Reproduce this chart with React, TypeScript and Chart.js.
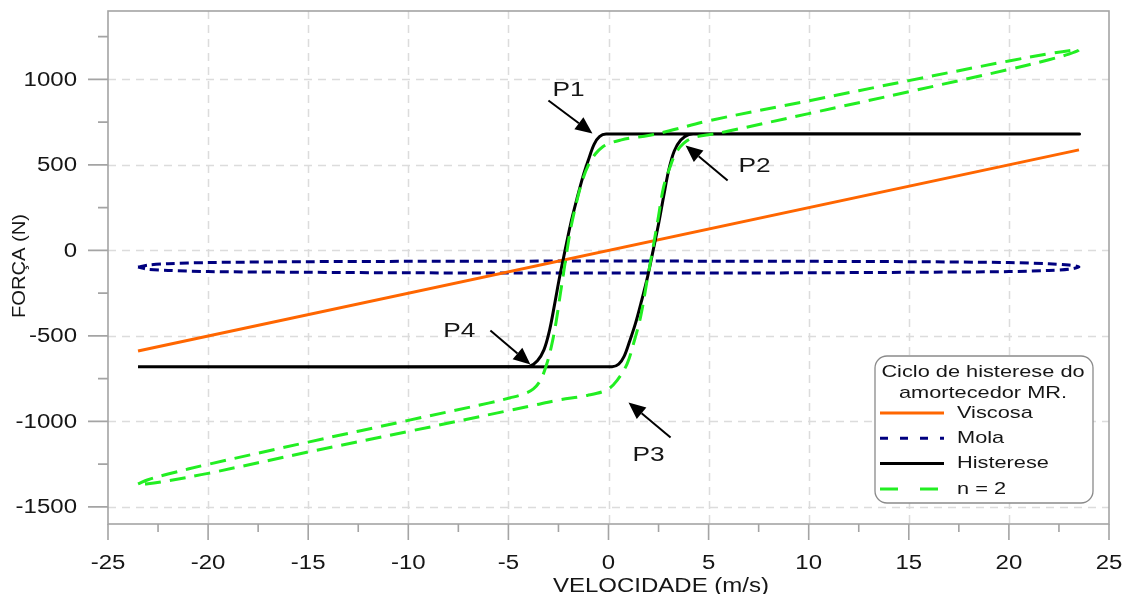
import React, { useEffect, useRef } from "react";
import { Chart, registerables } from "chart.js";

Chart.register(...registerables);

// ---------- axis ticks ----------
const X_MAJOR = [-25, -20, -15, -10, -5, 0, 5, 10, 15, 20, 25];
const X_MINOR = [-22.5, -17.5, -12.5, -7.5, -2.5, 2.5, 7.5, 12.5, 17.5, 22.5];
const Y_MAJOR = [-1500, -1000, -500, 0, 500, 1000];
const Y_MINOR = [-1250, -750, -250, 250, 750, 1250];

// ---------- series ----------
const viscosaX = [-23.5, 23.5];
const viscosaY = [-588, 588];

const molaX = [-23.5, -23, -22, -20, -15, -10, -5, 0, 5, 10, 15, 20, 22, 23, 23.5,
  23, 22, 20, 15, 10, 5, 0, -5, -10, -15, -20, -22, -23, -23.5];
const molaY = [-97, -86, -78, -71, -66, -64, -63, -62, -63, -64, -66, -71, -78, -86, -97,
  -110, -117, -124, -128, -131, -132, -132, -132, -131, -128, -124, -117, -110, -97];

const histX = [-23.5, -4.4, -3.95, -3.55, -3.22, -2.95, -2.7, -2.45, -2.17, -1.9, -1.58, -1.28, -1.0, -0.72, -0.45, -0.12, 23.5,
  4.5, 4.01, 3.61, 3.28, 3.01, 2.76, 2.51, 2.23, 1.96, 1.64, 1.34, 1.06, 0.78, 0.51, 0.18, -23.5];
const histY = [-680, -680, -678, -645, -580, -470, -320, -160, 0, 150, 300, 430, 530, 620, 665, 680, 680,
  680, 678, 645, 580, 470, 320, 160, 0, -150, -300, -430, -530, -620, -665, -680, -680];

const n2X = [-23.5, -23, -22, -20, -15, -10, -6, -4.9, -4.2, -3.75, -3.4, -3.1, -2.85, -2.62, -2.4, -2.15, -1.9, -1.6, -1.3, -1.0, -0.65, -0.3, 0.1, 0.6, 1.1, 2, 3, 5, 10, 15, 20, 22, 23, 23.5,
  23, 22, 20, 15, 10, 6, 5, 4.25, 3.75, 3.35, 3.05, 2.75, 2.47, 2.2, 1.93, 1.6, 1.25, 0.93, 0.43, -0.07, -1.06, -2.5, -3.75, -5, -10, -15, -20, -22, -23, -23.5];
const n2Y = [-1366, -1341, -1308, -1251, -1121, -994, -893, -862, -838, -810, -760, -670, -560, -420, -250, -60, 120, 280, 410, 500, 565, 605, 628, 645, 657, 672, 698, 758, 875, 993, 1108, 1150, 1168, 1172,
  1148, 1115, 1058, 928, 800, 698, 676, 660, 626, 567, 480, 370, 180, 0, -175, -390, -545, -663, -760, -815, -848, -875, -906, -937, -1059, -1179, -1304, -1347, -1365, -1366];

// ---------- legend / annotation text ----------
const LEGEND_TITLE = ["Ciclo de histerese do", "amortecedor MR."];
const LEGEND_LABELS = ["Viscosa", "Mola", "Histerese", "n = 2"];
const X_TITLE = "VELOCIDADE (m/s)";
const Y_TITLE = "FORÇA (N)";
const POINT_LABELS = ["P1", "P2", "P3", "P4"];

const COLORS = ["#ff6600", "#00007f", "#000000", "#22ee22"];
const DASHES: number[][] = [[], [9, 5], [], [16, 9]];
const LEGEND_DASHES: number[][] = [[], [8, 12], [], [18, 22]];

// annotation geometry in data units: [textX, textY, fromX, fromY, tipX, tipY]
const ANNOT = [
  [-2.0, 939, -3.0, 877, -0.8, 684],
  [7.3, 491, 5.95, 409, 3.85, 614],
  [2.0, -1199, 3.1, -1094, 1.0, -889],
  [-7.45, -474, -5.9, -468, -3.9, -667],
];

const toPts = (xs: number[], ys: number[]) => xs.map((x, i) => ({ x, y: ys[i] }));

const FONT = '"Liberation Sans", Arial, sans-serif';
const TEXT = "#161616";

function stretchText(ctx: CanvasRenderingContext2D, t: string, x: number, y: number, size: number, align: CanvasTextAlign, base: CanvasTextBaseline, sx: number) {
  ctx.save();
  ctx.translate(x, y);
  ctx.scale(sx, 1);
  ctx.font = `${size}px ${FONT}`;
  ctx.textAlign = align;
  ctx.textBaseline = base;
  ctx.fillStyle = TEXT;
  ctx.fillText(t, 0, 0);
  ctx.restore();
}

const decor = {
  id: "decor",
  beforeDatasetsDraw(chart: any) {
    const { ctx, chartArea: a, scales } = chart;
    const sx = scales.x, sy = scales.y;
    ctx.save();
    ctx.strokeStyle = "#dcdcdc";
    ctx.lineWidth = 1.5;
    ctx.setLineDash([8, 6]);
    X_MAJOR.forEach((v) => {
      if (v <= -25 || v >= 25) return;
      const p = Math.round(sx.getPixelForValue(v)) + 0.5;
      ctx.beginPath(); ctx.moveTo(p, a.top); ctx.lineTo(p, a.bottom); ctx.stroke();
    });
    Y_MAJOR.forEach((v) => {
      const p = Math.round(sy.getPixelForValue(v)) + 0.5;
      ctx.beginPath(); ctx.moveTo(a.left, p); ctx.lineTo(a.right, p); ctx.stroke();
    });
    ctx.restore();
  },
  afterDatasetsDraw(chart: any) {
    const { ctx, chartArea: a, scales } = chart;
    const sx = scales.x, sy = scales.y;
    ctx.save();
    // frame
    ctx.strokeStyle = "#a4a4a4";
    ctx.lineWidth = 1.6;
    ctx.strokeRect(a.left, a.top, a.right - a.left, a.bottom - a.top);
    // ticks
    ctx.beginPath();
    Y_MAJOR.forEach((v) => { const p = sy.getPixelForValue(v); ctx.moveTo(a.left - 20, p); ctx.lineTo(a.left, p); });
    Y_MINOR.forEach((v) => { const p = sy.getPixelForValue(v); ctx.moveTo(a.left - 10, p); ctx.lineTo(a.left, p); });
    X_MAJOR.forEach((v) => { const p = sx.getPixelForValue(v); ctx.moveTo(p, a.bottom); ctx.lineTo(p, a.bottom + 16); });
    X_MINOR.forEach((v) => { const p = sx.getPixelForValue(v); ctx.moveTo(p, a.bottom); ctx.lineTo(p, a.bottom + 8); });
    ctx.stroke();
    // tick labels
    Y_MAJOR.forEach((v) => stretchText(ctx, String(v), 77, sy.getPixelForValue(v) + 1, 20, "right", "middle", 1.2));
    X_MAJOR.forEach((v) => stretchText(ctx, String(v), sx.getPixelForValue(v), 563, 20, "center", "middle", 1.2));
    // axis titles
    stretchText(ctx, X_TITLE, 661, 592, 20, "center", "alphabetic", 1.2);
    ctx.save();
    ctx.translate(25, 266);
    ctx.rotate(-Math.PI / 2);
    ctx.scale(1.12, 1);
    ctx.font = `18px ${FONT}`;
    ctx.textAlign = "center";
    ctx.textBaseline = "alphabetic";
    ctx.fillStyle = TEXT;
    ctx.fillText(Y_TITLE, 0, 0);
    ctx.restore();
    // annotations
    ANNOT.forEach((g, i) => {
      const tx = sx.getPixelForValue(g[0]), ty = sy.getPixelForValue(g[1]);
      stretchText(ctx, POINT_LABELS[i], tx, ty, 21, "center", "middle", 1.25);
      const x0 = sx.getPixelForValue(g[2]), y0 = sy.getPixelForValue(g[3]);
      const x1 = sx.getPixelForValue(g[4]), y1 = sy.getPixelForValue(g[5]);
      const ang = Math.atan2(y1 - y0, x1 - x0);
      const L = 17, W = 7.5;
      const bx = x1 - L * Math.cos(ang), by = y1 - L * Math.sin(ang);
      ctx.strokeStyle = "#000"; ctx.lineWidth = 2; ctx.setLineDash([]);
      ctx.beginPath(); ctx.moveTo(x0, y0); ctx.lineTo(bx, by); ctx.stroke();
      ctx.fillStyle = "#000";
      ctx.beginPath();
      ctx.moveTo(x1, y1);
      ctx.lineTo(bx + W * Math.sin(ang), by - W * Math.cos(ang));
      ctx.lineTo(bx - W * Math.sin(ang), by + W * Math.cos(ang));
      ctx.closePath(); ctx.fill();
    });
    // legend box
    const lx = 875, ly = 356, lw = 218, lh = 147, r = 12;
    ctx.beginPath();
    ctx.moveTo(lx + r, ly);
    ctx.arcTo(lx + lw, ly, lx + lw, ly + lh, r);
    ctx.arcTo(lx + lw, ly + lh, lx, ly + lh, r);
    ctx.arcTo(lx, ly + lh, lx, ly, r);
    ctx.arcTo(lx, ly, lx + lw, ly, r);
    ctx.closePath();
    ctx.fillStyle = "#ffffff"; ctx.fill();
    ctx.strokeStyle = "#8a8a8a"; ctx.lineWidth = 1.3; ctx.stroke();
    stretchText(ctx, LEGEND_TITLE[0], 983, 372, 17, "center", "middle", 1.28);
    stretchText(ctx, LEGEND_TITLE[1], 983, 393, 17, "center", "middle", 1.28);
    LEGEND_LABELS.forEach((lab, i) => {
      const yy = 413 + i * 25.3;
      ctx.save();
      ctx.strokeStyle = COLORS[i]; ctx.lineWidth = 3; ctx.setLineDash(LEGEND_DASHES[i]);
      ctx.beginPath(); ctx.moveTo(880, yy); ctx.lineTo(944, yy); ctx.stroke();
      ctx.restore();
      stretchText(ctx, lab, 957, yy, 17, "left", "middle", 1.28);
    });
    ctx.restore();
  },
};

export default function App() {
  const ref = useRef<HTMLCanvasElement>(null);
  useEffect(() => {
    if (!ref.current) return;
    const ds = (label: string, xs: number[], ys: number[], i: number, order: number, tension: number) => ({
      label,
      data: toPts(xs, ys),
      showLine: true,
      borderColor: COLORS[i],
      backgroundColor: COLORS[i],
      borderWidth: 3,
      borderDash: DASHES[i],
      pointRadius: 0,
      tension,
      order,
      fill: false,
    });
    const chart = new Chart(ref.current, {
      type: "scatter",
      data: {
        datasets: [
          ds(LEGEND_LABELS[0], viscosaX, viscosaY, 0, 2, 0),
          ds(LEGEND_LABELS[1], molaX, molaY, 1, 3, 0.3),
          ds(LEGEND_LABELS[2], histX, histY, 2, 1, 0.35),
          ds(LEGEND_LABELS[3], n2X, n2Y, 3, 0, 0.35),
        ],
      },
      options: {
        responsive: false,
        animation: false,
        layout: { padding: { left: 108, right: 19, top: 11, bottom: 70 } },
        plugins: { legend: { display: false }, tooltip: { enabled: false } },
        scales: {
          x: { type: "linear", min: -25, max: 25, display: false },
          y: { type: "linear", min: -1600, max: 1400, display: false },
        },
      },
      plugins: [decor],
    });
    return () => chart.destroy();
  }, []);
  return (
    <div style={{ position: "fixed", left: 0, top: 0, width: 1128, height: 594, background: "#fff" }}>
      <canvas ref={ref} width={1128} height={594} />
    </div>
  );
}
